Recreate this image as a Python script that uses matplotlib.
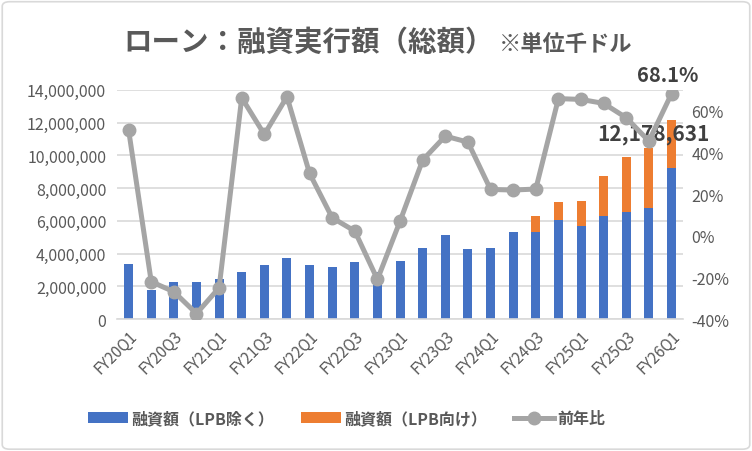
import numpy as np
import matplotlib
matplotlib.use("Agg")
import matplotlib.pyplot as plt
from matplotlib.ticker import FuncFormatter, MultipleLocator
from matplotlib.patches import FancyBboxPatch

plt.rcParams['font.family'] = ['Noto Sans CJK JP', 'DejaVu Sans']

# quarters FY20Q1 .. FY26Q1
quarters = [f"FY{y}Q{q}" for y in range(20, 27) for q in range(1, 5)][:25]

# 融資額（LPB除く）
loan_ex_lpb = [3350000, 1750000, 2250000, 2250000, 2470000, 2900000, 3330000, 3700000,
               3290000, 3170000, 3470000, 2900000, 3530000, 4310000, 5130000, 4250000,
               4310000, 5310000, 5310000, 6030000, 5680000, 6290000, 6540000, 6790000,
               9200000]
# 融資額（LPB向け）
loan_lpb = [0, 0, 0, 0, 0, 0, 0, 0, 0, 0, 0, 0, 0, 0, 0, 0, 0, 0,
            980000, 1120000, 1530000, 2460000, 3370000, 3680000, 2978631]
# 前年比 (%)
yoy = [50.7, -22.1, -26.9, -37.4, -25.0, 66.2, 48.6, 66.7, 29.9, 8.6, 2.2, -21.0,
       7.0, 36.3, 47.8, 44.9, 22.2, 21.9, 22.4, 65.8, 65.4, 63.5, 56.6, 45.4, 68.1]

blue = '#4472C4'
orange = '#ED7D31'
gray = '#A5A5A5'
txt = '#595959'

fig = plt.figure(figsize=(7.52, 4.52), dpi=100)
ax = fig.add_axes([0.156, 0.292, 0.752, 0.507])
x = np.arange(len(quarters))

b1 = ax.bar(x, loan_ex_lpb, width=0.4, color=blue, zorder=2, label='融資額（LPB除く）')
b2 = ax.bar(x, loan_lpb, width=0.4, bottom=loan_ex_lpb, color=orange, zorder=2,
            label='融資額（LPB向け）')
ax.set_ylim(0, 14000000)
ax.set_xlim(-0.5, len(quarters) - 0.5)
ax.yaxis.set_major_locator(MultipleLocator(2000000))
ax.yaxis.set_major_formatter(FuncFormatter(lambda v, p: f"{int(v):,}"))
ax.grid(axis='y', color='#D9D9D9', linewidth=1.2, zorder=0)
ax.set_axisbelow(True)
for s in ['top', 'left', 'right']:
    ax.spines[s].set_visible(False)
ax.spines['bottom'].set_color('#D9D9D9')
ax.spines['bottom'].set_linewidth(1.2)
ax.tick_params(axis='y', length=0, labelsize=11.5, labelcolor=txt, pad=8)
ax.set_xticks(x[::2])
ax.set_xticklabels(quarters[::2], rotation=45, ha='right', rotation_mode='anchor')
ax.tick_params(axis='x', length=0, labelsize=11, labelcolor=txt, pad=6)

ax2 = ax.twinx()
ln, = ax2.plot(x, yoy, color=gray, linewidth=3.6, marker='o', markersize=9,
               zorder=3, label='前年比')
ax2.set_ylim(-40, 70)
ax2.set_yticks([-40, -20, 0, 20, 40, 60])
ax2.yaxis.set_major_formatter(FuncFormatter(lambda v, p: f"{v:.0f}%"))
ax2.tick_params(axis='y', length=0, labelsize=11.5, labelcolor=txt, pad=6)
for s in ax2.spines.values():
    s.set_visible(False)

total_last = loan_ex_lpb[-1] + loan_lpb[-1]
ax.annotate(f"{total_last:,}", (x[-1], total_last), xytext=(-13, -10),
            textcoords='offset points', ha='center', va='center',
            fontsize=15, fontweight='bold', color='#404040', zorder=5)
ax2.annotate(f"{yoy[-1]:.1f}%", (x[-1], yoy[-1]), xytext=(-3, 14),
             textcoords='offset points', ha='center', va='center',
             fontsize=14.5, fontweight='bold', color='#404040', zorder=5)

fig.text(0.164, 0.905, 'ローン：融資実行額（総額）', fontsize=20.5, fontweight='bold',
         color=txt, va='center')
fig.text(0.663, 0.902, '※単位千ドル', fontsize=16, fontweight='bold',
         color=txt, va='center')

fig.legend([b1, b2, ln], ['融資額（LPB除く）', '融資額（LPB向け）', '前年比'],
           loc='center', bbox_to_anchor=(0.461, 0.072), ncol=3, frameon=False,
           prop={'size': 11.5, 'weight': 'bold'}, labelcolor=txt,
           handlelength=2.5, columnspacing=1.7, handletextpad=0.2)

border = FancyBboxPatch((0.003, 0.004), 0.994, 0.99, boxstyle='round,pad=0,rounding_size=0.01',
                        transform=fig.transFigure, fill=False, edgecolor='#D9D9D9', linewidth=1.2)
fig.patches.append(border)

fig.savefig('out.png', dpi=100)
